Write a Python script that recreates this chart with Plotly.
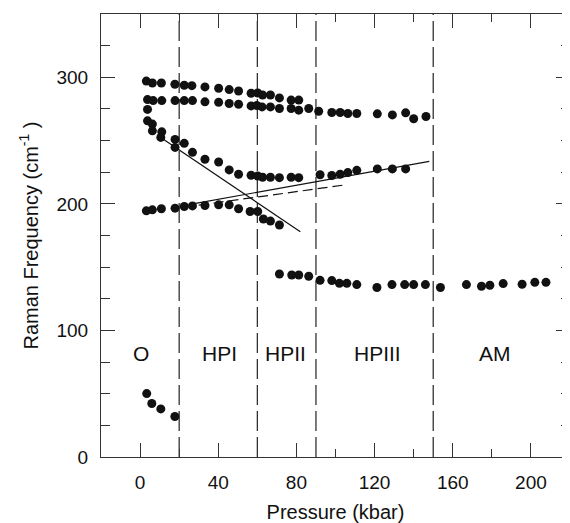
import plotly.graph_objects as go

# ---------------- data ----------------
s1_x = [3.2, 6.3, 10.9, 17.8, 22.6, 26.5, 33.2, 40.2, 45.6, 50.4, 56.8, 60.2, 62.7, 66.7, 71.3, 77.3, 81.2]
s1_y = [297, 295.5, 295.5, 294.5, 293.7, 293.4, 292.4, 291.3, 290.3, 289.2, 287.4, 287.6, 286, 286, 283.7, 282, 282]

s2_x = [3.8, 6.7, 11.1, 17.9, 22.6, 26.8, 33.2, 40.2, 45.6, 50.4, 56.8, 59.7, 62.4, 66.7, 71.3, 77.3, 81.2,
        86.3, 91.4, 98.1, 102.4, 106.3, 110.9, 121.4, 129.1, 135.9, 140, 146.3]
s2_y = [282.4, 281.6, 281.6, 281.6, 281.6, 281.6, 280.6, 280.3, 279.3, 278.7, 277.4, 277.7, 276.6, 276.6, 275.3, 275.3, 274,
        275.3, 273.2, 272.2, 272.2, 271.4, 271.4, 271.1, 270.3, 271.9, 267.2, 269]

s3_x = [3.8, 3.8, 6.3, 6.3, 11.1, 10.6, 17.9, 17.9, 22.6, 26.8, 33.2, 40.2, 45.6, 50.4, 56.8, 60.2, 62.7, 66.7, 71.3,
        77.3, 81.2, 92.1, 98.1, 102.4, 106.3, 110.9, 121.4, 129.1, 135.9]
s3_y = [274.6, 265.6, 263, 257.7, 256.9, 252.5, 250.9, 244.6, 247.8, 240.7, 235.2, 233.1, 226.8, 223.4, 222.6, 222, 221, 221, 220.7,
        221, 220.7, 223, 222.4, 223.4, 224.7, 226.5, 227.6, 227.6, 227.6]

s4_x = [3.2, 6.3, 10.9, 17.9, 22.6, 26.8, 33.2, 40.2, 45.6, 50.4, 56.3, 60.2, 63.1, 66.7, 71.3]
s4_y = [194.5, 195.3, 196.1, 196.6, 197.9, 198.4, 198.7, 199.2, 199.2, 196.1, 194, 194, 188, 186.4, 183.3]

s5_x = [71.3, 77.6, 81.2, 86.3, 92.1, 98.1, 102, 105.8, 110.9, 121.2, 128.9, 135.4, 140, 146, 153.7,
        167, 174.7, 179, 185.8, 195.5, 202, 207.7]
s5_y = [144.6, 143.8, 143.8, 142.8, 139.6, 139.4, 137.2, 137.2, 136.2, 133.9, 136.2, 136.2, 136.2, 136.2, 133.9,
        136.2, 134.9, 135.7, 137, 136.5, 138, 138]

s6_x = [3.4, 6.0, 10.6, 17.8]
s6_y = [50.1, 42.3, 38, 32]

# guide lines
desc_x = [10, 82]
desc_y = [253, 178]
asc_x = [27, 148]
asc_y = [200, 233.6]
dash_x = [30, 105]
dash_y = [199, 215]

phase_bounds = [20, 60, 90, 150]
phase_names = ["O", "HPI", "HPII", "HPIII", "AM"]
phase_label_x = [0.5, 40.5, 74.5, 121.5, 181.5]
phase_label_y = 82

x_range = [-20, 220]
y_range = [0, 350]
x_ticks = [0, 40, 80, 120, 160, 200]
y_ticks = [0, 100, 200, 300]

FONT = "Liberation Sans, Arial, sans-serif"
INK = "#111111"
AXC = "#333333"

fig = go.Figure()

for xb in phase_bounds:
    fig.add_trace(go.Scatter(x=[xb, xb], y=y_range, mode="lines",
                             line=dict(color="#222222", width=1.2, dash="20px,6px"),
                             showlegend=False, hoverinfo="skip"))

fig.add_trace(go.Scatter(x=desc_x, y=desc_y, mode="lines",
                         line=dict(color=INK, width=1.2), showlegend=False))
fig.add_trace(go.Scatter(x=asc_x, y=asc_y, mode="lines",
                         line=dict(color=INK, width=1.2), showlegend=False))
fig.add_trace(go.Scatter(x=dash_x, y=dash_y, mode="lines",
                         line=dict(color=INK, width=1.2, dash="10px,5px"), showlegend=False))

for xs, ys in [(s1_x, s1_y), (s2_x, s2_y), (s3_x, s3_y), (s4_x, s4_y), (s5_x, s5_y), (s6_x, s6_y)]:
    fig.add_trace(go.Scatter(x=xs, y=ys, mode="markers",
                             marker=dict(color=INK, size=9, line=dict(width=0)),
                             showlegend=False))

for name, lx in zip(phase_names, phase_label_x):
    fig.add_annotation(x=lx, y=phase_label_y, text=name, showarrow=False,
                       font=dict(family=FONT, size=21, color=INK))

# the page body adds an 8px offset, so the figure is sized/placed to compensate
fig.update_layout(
    width=562, height=515,
    margin=dict(l=93, r=0, t=6, b=66),
    paper_bgcolor="white", plot_bgcolor="white",
    font=dict(family=FONT, color=INK, size=19),
)

fig.update_xaxes(
    range=x_range, tickvals=x_ticks, ticks="inside", ticklen=14, tickwidth=1.2, tickcolor=AXC,
    minor=dict(dtick=20, tick0=0, ticks="inside", ticklen=8, tickcolor=AXC, tickwidth=1.2),
    showline=True, linecolor=AXC, linewidth=1.2, mirror="ticks", showgrid=False, zeroline=False,
    tickfont=dict(family=FONT, size=19, color=INK), ticklabelstandoff=8, automargin=False,
    title=dict(text="Pressure (kbar)", font=dict(family=FONT, size=20, color=INK), standoff=14),
)
fig.update_yaxes(
    range=y_range, tickvals=y_ticks, ticks="inside", ticklen=14, tickwidth=1.2, tickcolor=AXC,
    minor=dict(dtick=25, tick0=0, ticks="inside", ticklen=9, tickcolor=AXC, tickwidth=1.2),
    showline=True, linecolor=AXC, linewidth=1.2, mirror="ticks", showgrid=False, zeroline=False,
    tickfont=dict(family=FONT, size=19, color=INK), ticklabelstandoff=8, automargin=False,
    title=dict(text="Raman Frequency (cm<sup>-1</sup> )", font=dict(family=FONT, size=20, color=INK), standoff=12),
)

fig.write_html("out.html")
